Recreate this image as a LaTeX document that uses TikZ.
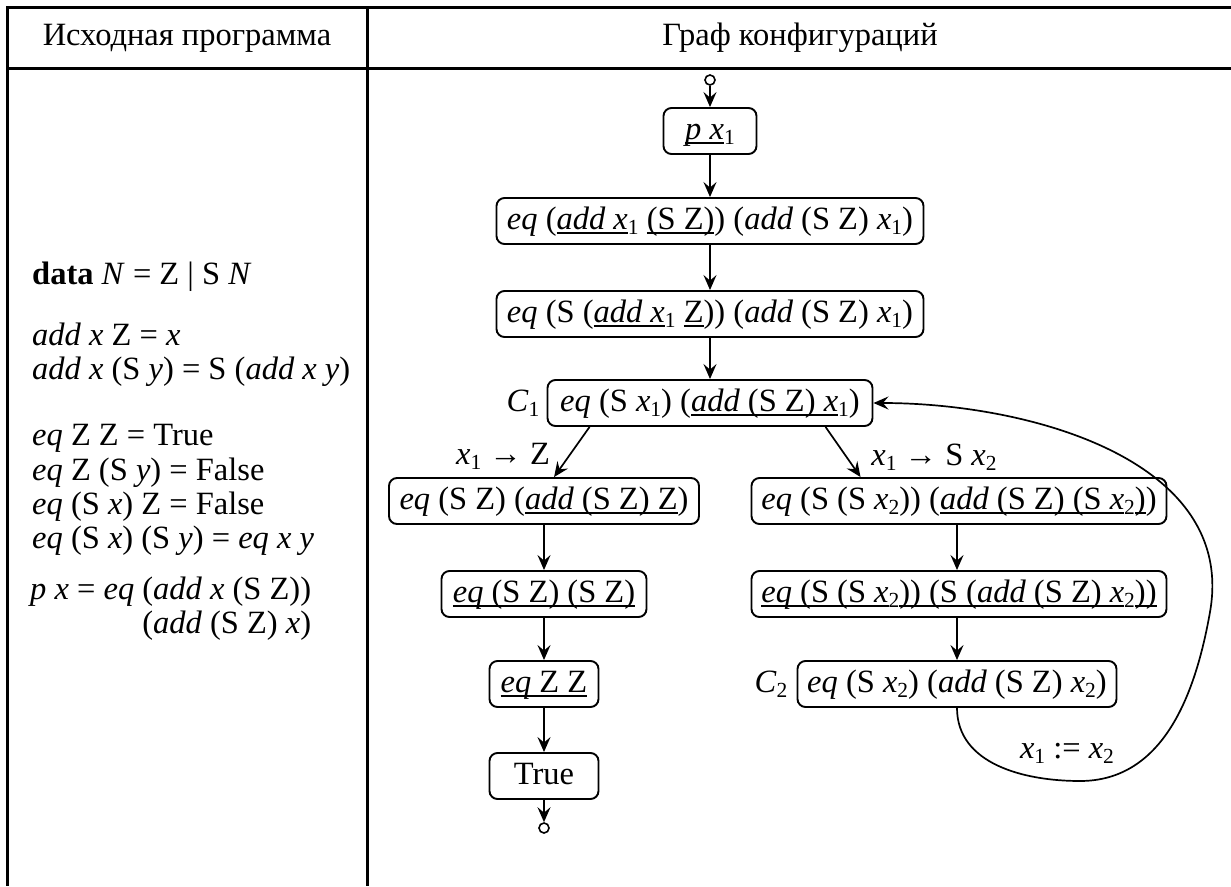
\documentclass[tikz,border=0pt]{standalone}
\usepackage{fontspec}
\setmainfont{Liberation Serif}
\usetikzlibrary{arrows.meta}
\newcommand\sbs[1]{\raisebox{-5pt}{\fontsize{21.5}{21.5}\selectfont #1}}
\newcommand\uln[1]{\sbox0{#1}\rlap{\rule[-4.5pt]{\wd0}{1.8pt}}\usebox0}
\newcommand\vi[1]{\textit{#1}}
\begin{document}
\begin{tikzpicture}[x=1pt,y=1pt,
  every node/.style={font=\fontsize{32.5}{35}\selectfont},
  cfg/.style={draw,line width=1.9pt,rounded corners=8pt,minimum height=46pt,
    inner xsep=6pt,inner ysep=0pt,text height=21pt,text depth=5pt},
  arr/.style={line width=1.7pt,-{Stealth[length=15pt,width=13pt,inset=5.5pt]}},
  tbl/.style={line width=3pt},
  txt/.style={anchor=base west,inner sep=0pt},
  endpt/.style={circle,draw,line width=1.6pt,minimum size=10pt,inner sep=0pt}]
\useasboundingbox (0,0) rectangle (1231,-886);
% table
\draw[tbl] (1231,-7) -- (7,-7) -- (7,-886);
\draw[tbl] (7,-68) -- (1231,-68);
\draw[tbl] (367,-7) -- (367,-886);
\node (h1) at (187,-38) {Исходная программа};
\node (h2) at (800,-38) {Граф конфигураций};
% program
\node[txt] (l1) at (32,-284) {\textbf{data} \vi{N} = Z | S \vi{N}};
\node[txt] (l2) at (32,-345) {\vi{add x} Z = \vi{x}};
\node[txt] (l3) at (32,-379) {\vi{add x} (S \vi{y}) = S (\vi{add x y})};
\node[txt] (l4) at (32,-445) {\vi{eq} Z Z = True};
\node[txt] (l5) at (32,-480) {\vi{eq} Z (S \vi{y}) = False};
\node[txt] (l6) at (32,-514) {\vi{eq} (S \vi{x}) Z = False};
\node[txt] (l7) at (32,-548) {\vi{eq} (S \vi{x}) (S \vi{y}) = \vi{eq x y}};
\node[txt] (l8) at (30,-599) {\vi{p x} = \vi{eq} (\vi{add x} (S Z))};
\node[txt] (l9) at (30,-633) {\hphantom{\vi{p x} = \vi{eq} }(\vi{add} (S Z) \vi{x})};
% graph
\node[endpt] (st) at (710,-80) {};
\node[cfg,minimum width=93pt] (p) at (710,-131) {\uln{\vi{p x}}\sbs{1}};
\node[cfg,minimum width=427pt] (b2) at (710,-221) {\vi{eq} (\uln{\vi{add x}}\sbs{1} \uln{(S Z)}) (\vi{add} (S Z) \vi{x}\sbs{1})};
\node[cfg,minimum width=427pt] (b3) at (710,-314) {\vi{eq} (S (\uln{\vi{add x}}\sbs{1} \uln{Z})) (\vi{add} (S Z) \vi{x}\sbs{1})};
\node[cfg,minimum width=325pt] (C1) at (710,-403) {\vi{eq} (S \vi{x}\sbs{1}) (\uln{\vi{add} (S Z) \vi{x}}\sbs{1})};
\node[cfg,minimum width=310pt] (L1) at (544,-501) {\vi{eq} (S Z) (\uln{\vi{add} (S Z) Z})};
\node[cfg,minimum width=205pt] (L2) at (544,-594) {\uln{\vi{eq} (S Z) (S Z)}};
\node[cfg,minimum width=109pt] (L3) at (544,-684) {\uln{\vi{eq} Z Z}};
\node[cfg,minimum width=109pt] (L4) at (544,-776) {True};
\node[endpt] (en) at (544,-828) {};
\node[cfg,minimum width=415pt] (R1) at (959,-501) {\vi{eq} (S (S \vi{x}\sbs{2})) (\uln{\vi{add} (S Z) (S \vi{x}}\sbs{2}\uln{)})};
\node[cfg,minimum width=415pt] (R2) at (959,-594) {\uln{\vi{eq} (S (S \vi{x}}\sbs{2}\uln{)) (S (\vi{add} (S Z) \vi{x}}\sbs{2}\uln{))}};
\node[cfg,minimum width=319pt] (C2) at (957,-684) {\vi{eq} (S \vi{x}\sbs{2}) (\vi{add} (S Z) \vi{x}\sbs{2})};
% labels
\node (lc1) at (523,-403) {\vi{C}\sbs{1}};
\node (lc2) at (771,-684) {\vi{C}\sbs{2}};
\node (lz) at (503,-456) {\vi{x}\sbs{1} → Z};
\node (ls) at (934,-457) {\vi{x}\sbs{1} → S \vi{x}\sbs{2}};
\node (lx) at (1067,-753) {\vi{x}\sbs{1} := \vi{x}\sbs{2}};
% connectors
\draw[arr] (st) -- (p);
\draw[arr] (p) -- (b2);
\draw[arr] (b2) -- (b3);
\draw[arr] (b3) -- (C1);
\draw[arr] ([xshift=43pt]C1.south west) -- ([xshift=166pt]L1.north west);
\draw[arr] ([xshift=279pt]C1.south west) -- ([xshift=110pt]R1.north west);
\draw[arr] (L1) -- (L2);
\draw[arr] (L2) -- (L3);
\draw[arr] (L3) -- (L4);
\draw[arr] (L4) -- (en);
\draw[arr] (R1.south -| C2.north) -- (R2.north -| C2.north);
\draw[arr] (R2.south -| C2.north) -- (C2.north);
\coordinate (lpA) at (1080,-781);
\coordinate (lpB) at (1210,-612);
\draw[arr] (C2.south) to[out=-90,in=180] (lpA) to[out=0,in=-100] (lpB) to[out=80,in=0] (C1.east);
\end{tikzpicture}
\end{document}
